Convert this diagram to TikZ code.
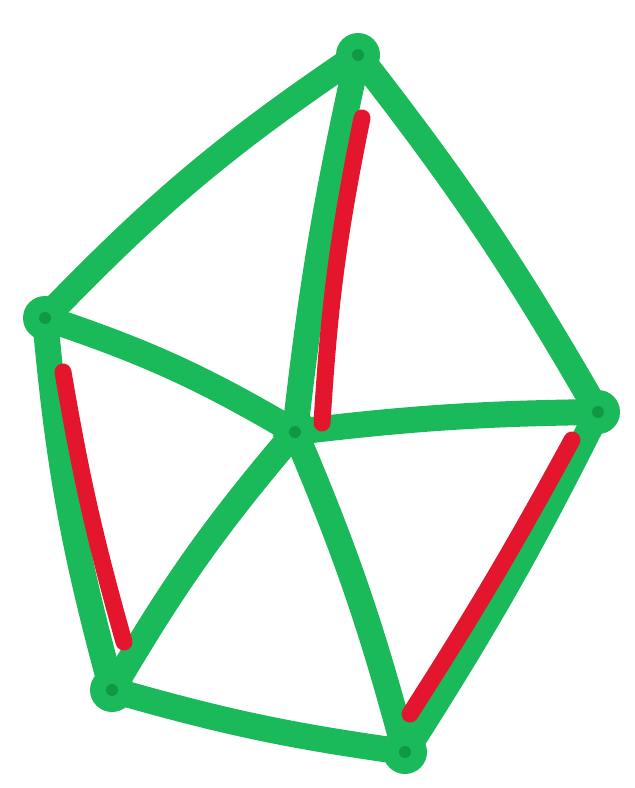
\documentclass[tikz,border=0pt]{standalone}
\begin{document}
\begin{tikzpicture}[x=1pt,y=-1pt,
  edge/.style={draw=gedge,line width=26pt,line cap=round},
  vert/.style={circle,fill=gedge,minimum size=44pt,inner sep=0pt},
  mark red/.style={draw=redmark,line width=17pt,line cap=round}]
\definecolor{gedge}{RGB}{26,186,90}
\definecolor{gdark}{RGB}{10,120,50}
\definecolor{redmark}{RGB}{228,22,45}
\useasboundingbox (0,0) rectangle (635,788);
\node[vert] (t) at (358,55) {};
\node[vert] (l) at (45,318) {};
\node[vert] (c) at (295,432) {};
\node[vert] (r) at (598,412) {};
\node[vert] (bl) at (112,690) {};
\node[vert] (b) at (405,752) {};
\draw[edge] (l.center) to[bend left=6] (t.center);
\draw[edge] (t.center) to[bend left=4] (r.center);
\draw[edge] (t.center) to[bend right=3] (c.center);
\draw[edge] (l.center) to[bend left=6] (c.center);
\draw[edge] (l.center) to[bend right=5] (bl.center);
\draw[edge] (c.center) to[bend left=3] (r.center);
\draw[edge] (c.center) to[bend right=5] (bl.center);
\draw[edge] (c.center) to[bend left=4] (b.center);
\draw[edge] (r.center) to[bend left=3] (b.center);
\draw[edge] (bl.center) to[bend right=4] (b.center);
\coordinate (ra1) at (362,118);
\coordinate (ra2) at (322,423);
\coordinate (rb1) at (63,372);
\coordinate (rb2) at (124,642);
\coordinate (rc1) at (572,440);
\coordinate (rc2) at (410,714);
\draw[mark red] (ra1) to[bend right=4] (ra2);
\draw[mark red] (rb1) to[bend right=3] (rb2);
\draw[mark red] (rc1) to[bend left=2] (rc2);
\foreach \n in {t,l,c,r,bl,b} \fill[gdark,opacity=0.5] (\n.center) circle (6pt);
\end{tikzpicture}
\end{document}
